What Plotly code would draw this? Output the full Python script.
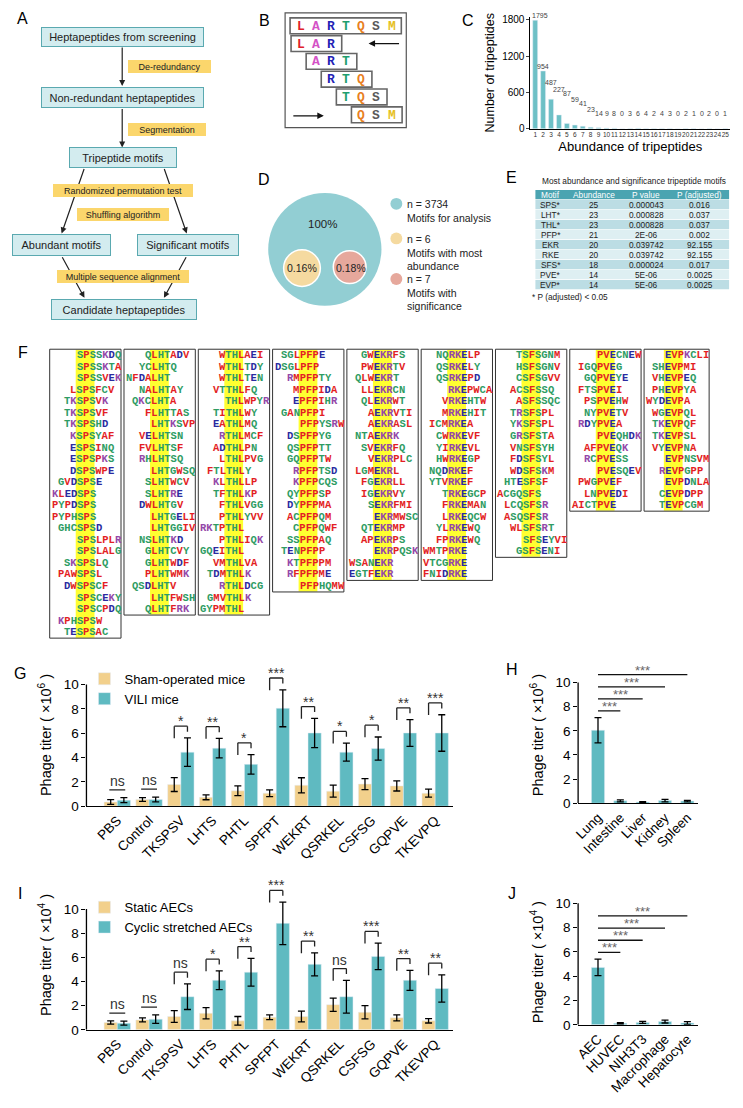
import plotly.graph_objects as go

W, H = 743, 1108
def X(p): return p / W
def Y(p): return 1 - p / H

# ---------------- data ----------------
# A: workflow
flow_boxes = ["Heptapeptides from screening", "Non-redundant heptapeptides", "Tripeptide motifs",
              "Abundant motifs", "Significant motifs", "Candidate heptapeptides"]
flow_steps = ["De-redundancy", "Segmentation", "Randomized permutation test",
              "Shuffling algorithm", "Multiple sequence alignment"]

# B: segmentation example
example_peptide = "LARTQSM"

# C: abundance histogram
abundance = list(range(1, 26))
tripeptide_counts = [1795, 954, 487, 227, 87, 59, 41, 23, 14, 9, 8, 0, 3, 6, 4, 2, 4, 3, 0, 2, 1, 0, 2, 0, 1]

# D: motif groups
motif_group_labels = ["Motifs for analysis", "Motifs with most<br>abundance", "Motifs with<br>significance"]
motif_group_n = [3734, 6, 7]
motif_group_pct = ["100%", "0.16%", "0.18%"]

# E: table
table_header = ["Motif", "Abundance", "P value", "P (adjusted)"]
table_motifs = ["SPS*", "LHT*", "THL*", "PFP*", "EKR", "RKE", "SFS*", "PVE*", "EVP*"]
table_abundance = [25, 23, 23, 21, 20, 20, 18, 14, 14]
table_pvalue = ["0.000043", "0.000828", "0.000828", "2E-06", "0.039742", "0.039742", "0.000024", "5E-06", "5E-06"]
table_padj = ["0.016", "0.037", "0.037", "0.002", "92.155", "92.155", "0.017", "0.0025", "0.0025"]

# F: alignments
f_motifs = ["SPS", "LHT", "THL", "PFP", "EKR", "RKE", "SFS", "PVE", "EVP"]
seqs_sps = ["SPSSKDQ", "SPSSKTA", "SPSSVEK", "LSPSFCV", "TKSPSVK", "TKSPSVF", "TKSPSHD", "KSPSYAF",
            "ESPSINQ", "ESPSPKS", "DSPSWPE", "GVDSPSE", "KLEDSPS", "PYPDSPS", "PYPHSPS", "GHCSPSD",
            "SPSLPLR", "SPSLALG", "SKSPSLQ", "PAWSPSL", "DWSPSCF", "SPSCEKY", "SPSCPDQ", "KPHSPSW", "TESPSAC"]
seqs_lht = ["QLHTADV", "YCLHTQ", "NFDALHT", "NALHTAY", "QKCLHTA", "FLHTTAS", "LHTKSVP", "VELHTSN",
            "FVLHTSF", "RHLHTSQ", "LHTGWSQ", "SLHTWCV", "SLHTRE", "DWLHTGV", "LHTGELI", "LHTGGIV",
            "NSLHTKD", "GLHTCVY", "GLHTWDF", "PLHTWMK", "QSDLHTV", "LHTFWSH", "QLHTFRK"]
seqs_thl = ["WTHLAEI", "WTHLTDY", "WTHLTEN", "VTTHLFQ", "THLWPYR", "TITHLWY", "EATHLMQ", "RTHLMCF",
            "ADTHLPN", "LTHLPVG", "FTLTHLY", "KLTHLLP", "TFTHLKP", "FTHLVGG", "PTHLYVV", "RKTPTHL",
            "PTHLIQK", "GQEITHL", "VMTHLVA", "TDMTHLK", "RTHLDCG", "GMVTHLK", "GYPMTHL"]
seqs_pfp = ["SGLPFPE", "DSGLPFP", "RMPFPTY", "MPFPIDA", "EPFPIHR", "GANPFPI", "PFPYSRW", "DSPFPYG",
            "QSPFPTT", "GQPFPTW", "RPFPTSD", "KPFPCQS", "QYPFPSP", "DYPFPMA", "ACPFPQM", "CPFPQWF",
            "SSPFPAQ", "TENPFPP", "KTPFPPM", "RFPFPME", "PFPHQMW"]
seqs_ekr = ["GWEKRFS", "PWEKRTV", "QLWEKRT", "LLEKRCN", "QLEKRWT", "AEKRVTI", "AEKRASL", "NTAEKRK",
            "SVEKRFQ", "VEKRPLC", "LGMEKRL", "FGEKRLL", "IGEKRVY", "SEKRFMI", "EKRMWSC", "QTEKRMP",
            "APEKRPS", "EKRPQSK", "WSANEKR", "EGTFEKR"]
seqs_rke = ["NQRKELP", "QSRKELY", "QSRKEPD", "RKEPWCA", "VRKEHTW", "MRKEHIT", "ICMRKEA", "CWRKEVF",
            "YIRKEVL", "HWRKEGP", "NQDRKEF", "YTVRKEF", "TRKEGCP", "FRKEMAN", "LRKEQCW", "YLRKEWQ",
            "FPRKEWQ", "WMTPRKE", "VTCGRKE", "FNIDRKE"]
seqs_sfs = ["TSFSGNM", "HSFSGNV", "CSFSGVV", "ACSFSSQ", "ASFSSQC", "TRSFSPL", "YKSFSPL", "GRSFSTA",
            "VNSFSYH", "FDSFSYL", "WDSFSKM", "HTESFSF", "ACGQSFS", "LCQSFSR", "ASQSFSR", "WLSFSRT",
            "SFSEYVI", "GSFSENI"]
seqs_pve = ["PVECNEW", "IGQPVEG", "GQPVEYE", "FTSPVEI", "PSPVEHW", "NYPVETV", "RDYPVEA", "PVEQHDK",
            "AFPVEQK", "RCPVESS", "PVESQEV", "PWGPVEF", "LNPVEDI", "AICTPVE"]
seqs_evp = ["EVPKCLI", "SHEVPMI", "VHEVPEQ", "PHEVPYA", "WYDEVPA", "WGEVPQL", "TKEVPQF", "TKEVPSL",
            "VYEVPNA", "EVPNSVM", "REVPGPP", "EVPDNLA", "CEVPDPP", "TEVPCGM"]
f_sequences = [seqs_sps, seqs_lht, seqs_thl, seqs_pfp, seqs_ekr, seqs_rke, seqs_sfs, seqs_pve, seqs_evp]

# G: in vivo
peptides = ["PBS", "Control", "TKSPSV", "LHTS", "PHTL", "SPFPT", "WEKRT", "QSRKEL", "CSFSG", "GQPVE", "TKEVPQ"]
g_sham = [0.35, 0.55, 1.78, 0.73, 1.27, 1.07, 1.72, 1.24, 1.82, 1.67, 1.07]
g_sham_err = [0.2, 0.15, 0.57, 0.2, 0.4, 0.28, 0.62, 0.5, 0.45, 0.42, 0.33]
g_vili = [0.5, 0.55, 4.44, 4.77, 3.44, 8.05, 6.02, 4.44, 4.74, 6.02, 6.02]
g_vili_err = [0.2, 0.2, 1.17, 0.8, 0.8, 1.52, 1.2, 0.74, 0.95, 1.1, 1.5]
g_sig = ["ns", "ns", "*", "**", "*", "***", "**", "*", "*", "**", "***"]

# H: organs
organs = ["Lung", "Intestine", "Liver", "Kidney", "Spleen"]
h_vals = [6.05, 0.2, 0.1, 0.22, 0.18]
h_err = [1.05, 0.08, 0.04, 0.1, 0.06]
h_sig = ["***", "***", "***", "***"]

# I: in vitro
i_static = [0.6, 0.82, 1.1, 1.37, 0.74, 1.04, 1.1, 2.08, 1.45, 0.99, 0.74]
i_static_err = [0.13, 0.16, 0.48, 0.47, 0.36, 0.2, 0.45, 0.55, 0.55, 0.25, 0.18]
i_cyclic = [0.55, 0.88, 2.74, 4.1, 4.77, 8.82, 5.42, 2.74, 6.08, 4.1, 3.42]
i_cyclic_err = [0.16, 0.35, 1.06, 0.78, 1.15, 1.76, 0.96, 1.36, 1.1, 0.83, 1.13]
i_sig = ["ns", "ns", "ns", "*", "**", "***", "**", "ns", "***", "**", "**"]

# J: cell types
cells = ["AEC", "HUVEC", "NIH3T3", "Macrophage", "Hepatocyte"]
j_vals = [4.72, 0.12, 0.2, 0.27, 0.15]
j_err = [0.68, 0.05, 0.08, 0.12, 0.12]
j_sig = ["***", "***", "***", "***"]

# ---------------- style ----------------
FONT = "Arial, Liberation Sans, sans-serif"
MONO = "Liberation Mono, Courier New, monospace"
TEAL = "#5fbac1"
YEL = "#f2d08c"
BOX_FILL = "#d3ecef"
BOX_LINE = "#5aa9b0"
STEP_FILL = "#fbd66c"

fig = go.Figure()
shapes = []
ann = []

def T(text, x, y, size, color="#222", xanchor="center", yanchor="middle", family=FONT, weight=None, **kw):
    f = dict(family=family, size=size, color=color)
    if weight:
        f["weight"] = weight
    d = dict(text=text, x=X(x), y=Y(y), xref="paper", yref="paper", showarrow=False,
             xanchor=xanchor, yanchor=yanchor, font=f)
    d.update(kw)
    ann.append(d)

def rect(x0, y0, x1, y1, fill=None, line=None, lw=1, layer="above"):
    shapes.append(dict(type="rect", xref="paper", yref="paper", x0=X(x0), x1=X(x1), y0=Y(y1), y1=Y(y0),
                       fillcolor=fill or "rgba(0,0,0,0)", layer=layer,
                       line=dict(color=line or "rgba(0,0,0,0)", width=lw if line else 0)))

def arrow(tail, head, width=1.2, color="#222"):
    (tx, ty), (hx, hy) = tail, head
    ann.append(dict(x=X(hx), y=Y(hy), xref="paper", yref="paper", ax=tx - hx, ay=ty - hy,
                    text="", showarrow=True, arrowhead=2, arrowsize=1, arrowwidth=width,
                    arrowcolor=color, standoff=0))

for t, x, y in [("A", 18, 15), ("B", 261, 17), ("C", 466, 17), ("D", 261, 177), ("E", 510, 175),
                ("F", 18, 352), ("G", 15, 677), ("H", 510, 673), ("I", 15, 899), ("J", 510, 899)]:
    T(t, x, y, 16, color="black")

# ---------- Panel A ----------
for tail, head in [((118, 43), (118, 83)), ((118, 105), (118, 145)), ((80, 166), (57, 232)),
                   ((160, 166), (183, 232)), ((57, 255), (80, 297)), ((183, 255), (160, 297))]:
    arrow(tail, head)
box_geom = [(118.5, 33, 161, 18), (118.5, 94.5, 161, 19), (119, 155.5, 106, 19),
            (56.5, 244, 97, 20), (184, 244, 100, 20), (120, 308.5, 144, 19)]
for txt, (cx, cy, w, h) in zip(flow_boxes, box_geom):
    T(txt, cx, cy, 11, width=w, height=h, borderpad=0, bgcolor=BOX_FILL, bordercolor=BOX_LINE, borderwidth=1)
step_geom = [(165.5, 63.5, 83, 13), (163, 127, 78, 13), (119, 189, 140, 13),
             (119, 212.5, 92, 13), (119, 275.5, 132, 13)]
for txt, (cx, cy, w, h) in zip(flow_steps, step_geom):
    T(txt, cx, cy, 9, width=w, height=h, borderpad=0, bgcolor=STEP_FILL, borderwidth=0)

# ---------- Panel B ----------
aa_b_colors = {"L": "#e0202a", "A": "#d452c6", "R": "#2323b5", "T": "#1f9e6e",
               "Q": "#e8801f", "S": "#5a5a5a", "M": "#e6c01e"}
rect(282, 9, 404, 125, line="#555", lw=1.2)
rect(287, 14, 399, 30, line="#666", lw=1.6)
step_b = 15.2
for j, a in enumerate(example_peptide):
    T(a, 298 + j * step_b, 22.5, 13, color=aa_b_colors[a], family=MONO, weight="bold")
for k in range(len(example_peptide) - 2):
    tri = example_peptide[k:k + 3]
    x0 = 288 + k * step_b
    y0 = 32 + k * 18
    rect(x0, y0, x0 + 51, y0 + 16, line="#666", lw=1.6)
    for j, a in enumerate(tri):
        T(a, 298 + (k + j) * step_b, y0 + 8.5, 13, color=aa_b_colors[a], family=MONO, weight="bold")
arrow((398, 40), (366, 40), 1.3, "#111")
arrow((289, 113), (321, 113), 1.3, "#111")

# ---------- Panel C ----------
C_YMAX = 1850
C_PX_PER_UNIT = 113 / C_YMAX
c_label_heights = [1866, 1031, 769, 655, 589, 475, 409, 311] + [245] * 17
c_label_xshift = [5] + [0] * 24
fig.add_trace(go.Bar(x=abundance, y=tripeptide_counts, marker_color="#6dc0c6", width=0.62,
                     xaxis="x", yaxis="y", showlegend=False))
for xv, v, hy, xs in zip(abundance, tripeptide_counts, c_label_heights, c_label_xshift):
    yy = min(hy, C_YMAX - 5)
    ann.append(dict(text=str(v), x=xv, y=yy, xref="x", yref="y", showarrow=False, xanchor="center",
                    yanchor="middle", yshift=(hy - yy) * C_PX_PER_UNIT, xshift=xs,
                    font=dict(family=FONT, size=7, color="#444")))

# ---------- Panel D ----------
d_cols = ["#92ced3", "#f5daa0", "#e6a89c"]
def circle(cx, cy, r, fill, line=None):
    shapes.append(dict(type="circle", xref="paper", yref="paper", x0=X(cx - r), x1=X(cx + r),
                       y0=Y(cy + r), y1=Y(cy - r), fillcolor=fill,
                       line=dict(color=line or fill, width=1.5 if line else 0)))
circle(322, 248, 57, d_cols[0])
circle(299, 267, 18.5, d_cols[1], "white")
circle(347, 266, 16.5, d_cols[2], "white")
for txt, (x, y, s) in zip(motif_group_pct, [(320, 222, 11.5), (299, 267, 10.5), (348, 267, 10.5)]):
    T(txt, x, y, s)
for n, lab, col, yy in zip(motif_group_n, motif_group_labels, d_cols, [202, 237, 278]):
    circle(394, yy, 6, col)
    T(f"n = {n}<br>{lab}", 403, yy - 8, 10.5, xanchor="left", yanchor="top", align="left")

# ---------- Panel E ----------
col_edges = [534, 565, 621, 670, 729]
row_top, row_hgt = 188, 10.1
T("Most abundance and significance tripeptide motifs", 633, 179, 8.3)
T("* P (adjusted) < 0.05", 529, 296, 8.3, xanchor="left")
table_cols = [table_motifs, [str(v) for v in table_abundance], table_pvalue, table_padj]
rows = [table_header] + [list(r) for r in zip(*table_cols)]
for r, row in enumerate(rows):
    y0 = row_top + r * row_hgt
    fill = "#4ba4b1" if r == 0 else ("#bcdde4" if r % 2 == 1 else "#deeff2")
    rect(col_edges[0], y0, col_edges[-1], y0 + row_hgt - 0.6, fill=fill, layer="below")
    for c, val in enumerate(row):
        T(val, (col_edges[c] + col_edges[c + 1]) / 2, y0 + row_hgt / 2, 8.3,
          color="white" if r == 0 else "#222")

# ---------- Panel F ----------
def aa_color(a):
    if a in "AVFPMILW":
        return "#e31e24"
    if a in "DE":
        return "#2a2aa0"
    if a in "RK":
        return "#9448a8"
    return "#2e9c63"

cw, row_h, top_row = 6.3, 11.67, 355
for b, (motif, seqs) in enumerate(zip(f_motifs, f_sequences)):
    finds = [s.find(motif) for s in seqs]
    mcol = max(finds)
    offsets = [mcol - f for f in finds]
    ncol = max(o + len(s) for o, s in zip(offsets, seqs))
    left = 45 + b * 74.8
    right = left + ncol * cw + 2.5
    bottom = top_row + (len(seqs) - 1) * row_h + 6
    rect(left + 1 + mcol * cw, top_row - 5.5, left + 1 + (mcol + 3) * cw, bottom - 0.5,
         fill="#ffff30", layer="below")
    rect(left, 349, right, bottom, line="#333", lw=1)
    for r, (s, o) in enumerate(zip(seqs, offsets)):
        txt = "".join(f"<span style='color:{aa_color(a)}'>{a}</span>" for a in s)
        T(txt, left + 1 + o * cw, top_row + r * row_h, 10.5, xanchor="left", family=MONO,
          weight="bold", borderpad=0)

# ---------- Panels G and I (paired bars) ----------
def paired(xa, ya, leg, a_vals, a_err, b_vals, b_err, names, sig):
    for vals, err, col, off, name in [(a_vals, a_err, YEL, -0.415, names[0]), (b_vals, b_err, TEAL, 0, names[1])]:
        fig.add_trace(go.Bar(x=peptides, y=vals, width=0.415, offset=off, marker_color=col, name=name,
                             error_y=dict(type="data", array=err, color="black", thickness=1.3, width=3.5),
                             xaxis=xa, yaxis=ya, legend=leg))
    axn = xa[1:]
    for i, s in enumerate(sig):
        ta = a_vals[i] + a_err[i]
        tb = b_vals[i] + b_err[i]
        if i < 2:
            top = max(ta, tb) + 0.65
            shapes.append(dict(type="line", xref=xa, yref=ya, x0=i - 0.25, x1=i + 0.25, y0=top, y1=top,
                               line=dict(color="#222", width=1.3)))
        else:
            top = max(ta, tb) + 0.97
            xl, xr = i - 0.2075, i + 0.2075
            for x0, y0, x1, y1 in [(xl, top - 1.0, xl, top), (xl, top, xr, top), (xr, top, xr, top - 0.45)]:
                shapes.append(dict(type="line", xref=xa, yref=ya, x0=x0, x1=x1, y0=y0, y1=y1,
                                   line=dict(color="#222", width=1.3)))
        ann.append(dict(text=s, x=i, y=top, xref=xa, yref=ya, showarrow=False, xanchor="center",
                        yanchor="bottom", yshift=-1 if s == "ns" else -5,
                        font=dict(family=FONT, size=14, color="#333")))
    shapes.append(dict(type="line", xref=f"x{axn} domain", yref=ya, x0=0, x1=0, y0=0, y1=10,
                       line=dict(color="black", width=1.3)))

paired("x2", "y2", "legend", g_sham, g_sham_err, g_vili, g_vili_err, ["Sham-operated mice", "VILI mice"], g_sig)
paired("x4", "y4", "legend2", i_static, i_static_err, i_cyclic, i_cyclic_err,
       ["Static AECs", "Cyclic stretched AECs"], i_sig)

# ---------- Panels H and J (single bars) ----------
def single(xa, ya, cats, vals, err, sig):
    fig.add_trace(go.Bar(x=cats, y=vals, width=0.59, marker_color=TEAL, showlegend=False,
                         error_y=dict(type="data", array=err, color="black", thickness=1.3, width=3.5),
                         xaxis=xa, yaxis=ya))
    base = vals[0] + err[0] + 0.55
    for j, s in enumerate(sig, start=1):
        ly = base + (j - 1) * 1.0
        shapes.append(dict(type="line", xref=xa, yref=ya, x0=0, x1=j, y0=ly, y1=ly,
                           line=dict(color="#111", width=1.3)))
        ann.append(dict(text=s, x=j / 2, y=ly, xref=xa, yref=ya, showarrow=False, xanchor="center",
                        yanchor="bottom", yshift=-5, font=dict(family=FONT, size=13, color="#666")))
    axn = xa[1:]
    shapes.append(dict(type="line", xref=f"x{axn} domain", yref=ya, x0=0, x1=0, y0=0, y1=10,
                       line=dict(color="black", width=1.3)))

single("x3", "y3", organs, h_vals, h_err, h_sig)
single("x5", "y5", cells, j_vals, j_err, j_sig)

# ---------- axes ----------
def xcat(dom, rng, anchor):
    return dict(domain=[X(dom[0]), X(dom[1])], range=rng, anchor=anchor, type="category",
                tickangle=-45, tickfont=dict(family=FONT, size=13.5, color="black"),
                showline=True, linecolor="black", linewidth=1.3, ticks="", showgrid=False, zeroline=False)

def ybar(y0px, y10px, rmax, anchor, title):
    per = (y0px - y10px) / 10
    return dict(domain=[Y(y0px), Y(y0px - rmax * per)], range=[0, rmax], anchor=anchor,
                tickvals=[0, 2, 4, 6, 8, 10], ticks="outside", ticklen=4, tickwidth=1.3, tickcolor="black",
                tickfont=dict(family=FONT, size=13.5, color="black"), showline=False, showgrid=False,
                zeroline=False, title=dict(text=title, font=dict(family=FONT, size=14.5, color="black"), standoff=8))

fig.update_layout(
    width=W, height=H, margin=dict(l=0, r=0, t=0, b=0), plot_bgcolor="white", paper_bgcolor="white",
    barmode="overlay", font=dict(family=FONT),
    xaxis=dict(domain=[X(529), X(730)], range=[0.4, 25.6], anchor="y", tickvals=abundance, tickangle=0,
               tickfont=dict(family=FONT, size=6.5, color="#333"), showline=True, linecolor="black",
               linewidth=1, ticks="", showgrid=False, zeroline=False,
               title=dict(text="Abundance of tripeptides", font=dict(family=FONT, size=13, color="black"), standoff=4)),
    yaxis=dict(domain=[Y(126), Y(13)], range=[0, C_YMAX], anchor="x", tickvals=[0, 600, 1200, 1800],
               ticks="outside", ticklen=3, tickfont=dict(family=FONT, size=10, color="black"),
               showline=True, linecolor="black", linewidth=1, showgrid=False, zeroline=False,
               title=dict(text="Number of tripeptides", font=dict(family=FONT, size=12.5, color="black"), standoff=4)),
    xaxis2=xcat((82, 451), [-0.97, 10.56], "y2"),
    yaxis2=ybar(811, 688, 11.7, "x2", "Phage titer ( ×10<sup>6</sup> )"),
    xaxis3=xcat((577, 698), [-0.89, 4.49], "y3"),
    yaxis3=ybar(808, 686, 11.3, "x3", "Phage titer ( ×10<sup>6</sup> )"),
    xaxis4=xcat((82, 451), [-0.97, 10.56], "y4"),
    yaxis4=ybar(1037, 915, 12.4, "x4", "Phage titer ( ×10<sup>4</sup> )"),
    xaxis5=xcat((577, 698), [-0.89, 4.49], "y5"),
    yaxis5=ybar(1032, 909, 10.3, "x5", "Phage titer ( ×10<sup>4</sup> )"),
    legend=dict(x=X(80), y=Y(667), xanchor="left", yanchor="top", bgcolor="rgba(0,0,0,0)",
                font=dict(family=FONT, size=13, color="black"), tracegroupgap=0, itemwidth=30),
    legend2=dict(x=X(80), y=Y(898), xanchor="left", yanchor="top", bgcolor="rgba(0,0,0,0)",
                 font=dict(family=FONT, size=13, color="black"), tracegroupgap=0, itemwidth=30),
    shapes=shapes, annotations=ann,
)

fig.write_html("out.html", config={"displayModeBar": False},
               post_script="document.body.style.margin='0px';")
